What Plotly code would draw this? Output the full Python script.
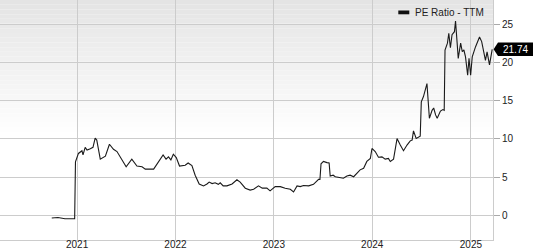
import plotly.graph_objects as go

dates = [
    "2020-09-29", "2020-10-22", "2020-11-17", "2020-12-23", "2020-12-26",
    "2021-01-06", "2021-01-19", "2021-01-23", "2021-01-31", "2021-02-07",
    "2021-02-19", "2021-03-01", "2021-03-09", "2021-03-15", "2021-03-28",
    "2021-04-16", "2021-05-01", "2021-05-16", "2021-05-29", "2021-06-16",
    "2021-07-02", "2021-07-23", "2021-08-11", "2021-08-30", "2021-09-11",
    "2021-10-12", "2021-10-30", "2021-11-16", "2021-11-27", "2021-12-06",
    "2021-12-15", "2021-12-24", "2022-01-04", "2022-01-16", "2022-02-06",
    "2022-02-17", "2022-03-03", "2022-03-15", "2022-03-30", "2022-04-15",
    "2022-04-28", "2022-05-06", "2022-05-17", "2022-05-28", "2022-06-09",
    "2022-06-16", "2022-06-27", "2022-07-11", "2022-07-30", "2022-08-17",
    "2022-08-29", "2022-09-17", "2022-10-05", "2022-10-18", "2022-11-05",
    "2022-11-19", "2022-12-06", "2022-12-18", "2023-01-06", "2023-01-25",
    "2023-02-12", "2023-03-03", "2023-03-15", "2023-03-28", "2023-04-09",
    "2023-04-21", "2023-05-10", "2023-05-28", "2023-06-16", "2023-06-21",
    "2023-06-25", "2023-07-04", "2023-07-17", "2023-07-25", "2023-07-29",
    "2023-08-09", "2023-08-17", "2023-09-04", "2023-09-16", "2023-09-29",
    "2023-10-11", "2023-10-24", "2023-11-05", "2023-11-17", "2023-11-30",
    "2023-12-12", "2023-12-25", "2023-12-31", "2024-01-12", "2024-01-24",
    "2024-02-06", "2024-02-18", "2024-03-01", "2024-03-08", "2024-03-20",
    "2024-04-02", "2024-04-14", "2024-04-26", "2024-05-09", "2024-05-21",
    "2024-05-28", "2024-06-02", "2024-06-12", "2024-06-27", "2024-07-01",
    "2024-07-09", "2024-07-22", "2024-07-31", "2024-08-10", "2024-08-16",
    "2024-08-23", "2024-08-29", "2024-09-10", "2024-09-19", "2024-09-24",
    "2024-09-27", "2024-10-06", "2024-10-11", "2024-10-17", "2024-10-23",
    "2024-11-01", "2024-11-05", "2024-11-11", "2024-11-15", "2024-11-24",
    "2024-11-30", "2024-12-06", "2024-12-12", "2024-12-20", "2024-12-25",
    "2024-12-31", "2025-01-06", "2025-01-18", "2025-02-02", "2025-02-10",
    "2025-02-24", "2025-03-02", "2025-03-11", "2025-03-21",
]

pe_ratio = [
    -0.35, -0.3, -0.45, -0.45, 7.0,
    8.1, 8.45, 7.9, 8.9, 8.55,
    8.7, 8.9, 10.1, 9.85, 7.35,
    7.75, 9.3, 8.65, 8.35, 7.25,
    6.35, 7.35, 6.45, 6.35, 6.05,
    6.05, 7.05, 7.9, 7.35, 7.65,
    7.25, 8.0, 7.55, 6.45, 6.55,
    6.85, 6.5, 5.25, 4.1, 3.85,
    4.1, 4.35, 4.15, 4.25, 4.05,
    4.25, 3.85, 3.85, 4.1, 4.65,
    4.35, 3.55, 3.3, 3.4, 3.85,
    3.55, 3.55, 3.2, 3.75, 3.75,
    3.55, 3.4, 3.05, 3.85, 3.75,
    3.9, 3.85, 4.05, 4.7, 4.7,
    6.75, 7.05, 6.9, 6.85, 5.15,
    5.25, 5.05, 4.95, 4.85, 5.15,
    5.25, 5.05, 5.55, 5.95, 6.15,
    7.05, 7.45, 8.75, 8.35, 7.6,
    7.65, 7.35, 7.45, 7.05, 7.35,
    10.05, 9.2, 8.45, 9.2, 9.75,
    9.85, 11.05, 10.05, 10.35, 14.85,
    15.55, 17.25, 12.7, 13.75, 14.05,
    13.15, 12.7, 13.65, 13.85, 13.75,
    21.65, 22.55, 23.85, 21.95, 23.65,
    24.05, 25.45, 22.55, 20.55, 22.55,
    21.45, 21.65, 20.75, 18.35, 20.55,
    18.35, 20.75, 22.05, 23.35, 22.75,
    20.3, 21.4, 19.7, 21.74,
]

x_tick_labels = ["2021", "2022", "2023", "2024", "2025"]
x_tick_vals = ["2021-01-01", "2022-01-01", "2023-01-01", "2024-01-01", "2025-01-01"]
y_tick_vals = [0, 5, 10, 15, 20, 25]
series_name = "PE Ratio - TTM"

FONT = "Liberation Sans, Arial, Helvetica, sans-serif"
GRID = "#cccccc"
TEXT = "#222222"

fig = go.Figure()
fig.add_trace(go.Scatter(
    x=dates, y=pe_ratio, mode="lines", name=series_name,
    line=dict(color="#1a1a1a", width=1.1), showlegend=False,
))

# gradient background
shapes = []
n = 28
top_c, bot_c = 0xe4, 0xff
for i in range(n):
    y1 = 1 - i * 0.55 / n
    y0 = 1 - (i + 1) * 0.55 / n
    c = int(top_c + (bot_c - top_c) * (i + 0.5) / n)
    shapes.append(dict(type="rect", xref="paper", yref="paper", x0=0, x1=1,
                       y0=y0, y1=y1, fillcolor=f"rgb({c},{c},{c})",
                       line=dict(width=0), layer="below"))

# legend swatch
plot_w = 493.0
plot_h = 240.0
shapes.append(dict(type="rect", xref="paper", yref="paper",
                   x0=398.3 / plot_w, x1=409.3 / plot_w,
                   y0=1 - 14.3 / plot_h, y1=1 - 10.5 / plot_h,
                   fillcolor="#111111", line=dict(width=0), layer="above"))

# last value tag
last_val = pe_ratio[-1]
shapes.append(dict(type="path", xref="paper", yref="y",
                   xsizemode="pixel", ysizemode="pixel",
                   xanchor=1, yanchor=last_val,
                   path="M 0.6,0 L 5,6.7 L 41,6.7 L 41,-6.7 L 5,-6.7 Z",
                   fillcolor="#000000", line=dict(width=0), layer="above"))

annotations = [
    dict(text=series_name, xref="paper", yref="paper",
         x=412.5 / plot_w, y=1 - 12.3 / plot_h, xanchor="left", yanchor="middle",
         showarrow=False, font=dict(family=FONT, size=10, color=TEXT)),
    dict(text=f"{last_val:.2f}", xref="paper", yref="y",
         x=1, xshift=22.5, y=last_val, xanchor="center", yanchor="middle",
         showarrow=False, font=dict(family=FONT, size=10, color="#ffffff")),
]

fig.update_layout(
    width=533, height=250,
    margin=dict(l=0, r=40, t=0, b=10, autoexpand=False),
    paper_bgcolor="#ffffff",
    plot_bgcolor="rgba(0,0,0,0)",
    shapes=shapes,
    annotations=annotations,
    font=dict(family=FONT, size=10, color=TEXT),
    xaxis=dict(
        type="date", automargin=False,
        range=["2020-03-21", "2025-03-24"],
        tickvals=x_tick_vals, ticktext=x_tick_labels,
        showgrid=True, gridcolor=GRID, gridwidth=1,
        showline=True, linecolor=GRID, linewidth=1, mirror=True,
        ticks="", zeroline=False, ticklabelstandoff=-5,
        tickfont=dict(family=FONT, size=10, color=TEXT),
    ),
    yaxis=dict(
        side="right", automargin=False,
        range=[-3.24, 28.2],
        tickvals=y_tick_vals,
        showgrid=True, gridcolor=GRID, gridwidth=1,
        showline=True, linecolor=GRID, linewidth=1, mirror=True,
        ticks="outside", ticklen=6, tickcolor="#aaaaaa",
        zeroline=False,
        tickfont=dict(family=FONT, size=10, color=TEXT),
    ),
)

fig.write_html("out.html")
